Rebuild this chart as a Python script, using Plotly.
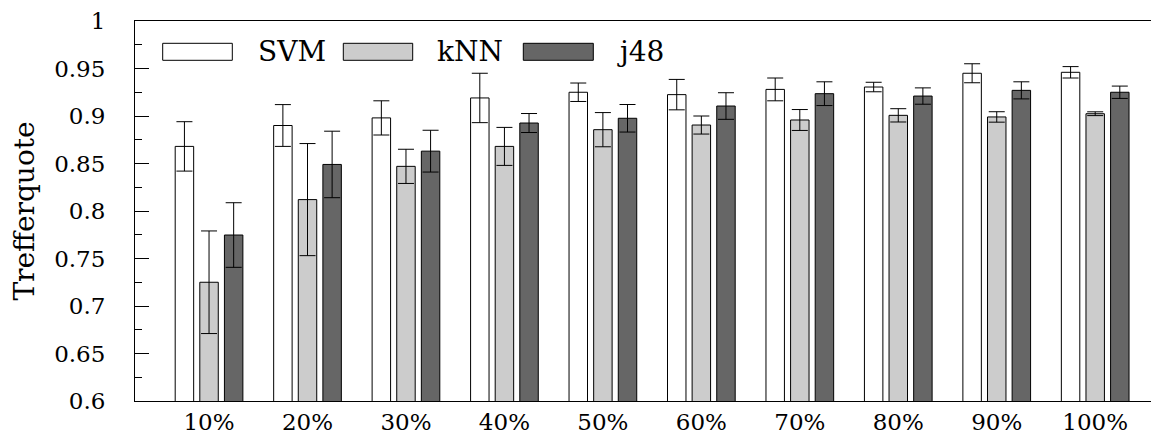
import plotly.graph_objects as go

categories = ["10%", "20%", "30%", "40%", "50%", "60%", "70%", "80%", "90%", "100%"]
series_names = ["SVM", "kNN", "j48"]
svm = [0.868, 0.890, 0.898, 0.919, 0.925, 0.9225, 0.928, 0.9305, 0.945, 0.946]
svm_err = [0.026, 0.022, 0.018, 0.026, 0.0097, 0.016, 0.012, 0.005, 0.010, 0.006]
knn = [0.725, 0.812, 0.847, 0.868, 0.8856, 0.8905, 0.8958, 0.9007, 0.899, 0.9024]
knn_err = [0.054, 0.059, 0.018, 0.020, 0.018, 0.0095, 0.011, 0.007, 0.0055, 0.002]
j48 = [0.7747, 0.849, 0.863, 0.8926, 0.8976, 0.9105, 0.9235, 0.921, 0.927, 0.925]
j48_err = [0.034, 0.035, 0.022, 0.010, 0.0145, 0.014, 0.0125, 0.0086, 0.009, 0.0065]
y_ticks = [0.6, 0.65, 0.7, 0.75, 0.8, 0.85, 0.9, 0.95, 1.0]
y_tick_text = ["0.6", "0.65", "0.7", "0.75", "0.8", "0.85", "0.9", "0.95", "1"]

colors = ["#ffffff", "#cccccc", "#666666"]
FONT = "DejaVu Serif"
FS = 23

# page body has an 8px default margin
OFF = 8
W, H = 1159 - OFF, 439
PL, PR, PT, PB = 135, 1159, 21, 401   # plot area in window pixels
L, T = PL - OFF, PT - OFF
R = (W + OFF) - PR
B = (H + OFF) - PB
PW, PH = PR - PL, PB - PT

def px_x(p):
    return (p - PL) / PW

def px_y(p):
    return (PB - p) / PH

fig = go.Figure()
for name, vals, errs, col in zip(series_names, [svm, knn, j48], [svm_err, knn_err, j48_err], colors):
    fig.add_trace(go.Bar(
        x=categories, y=vals, name=name,
        marker=dict(color=col, line=dict(color="black", width=1)),
        error_y=dict(type="data", array=errs, visible=True, color="black", thickness=1, width=8),
        showlegend=False,
    ))

# right-side mirrored ticks (major only)
fig.add_trace(go.Scatter(x=[categories[0]], y=[0.6], yaxis="y2", mode="markers",
                         marker=dict(opacity=0), showlegend=False, hoverinfo="skip"))

# custom legend
legend_rects = [(162.7, 232.3), (343.3, 412.7), (523.3, 593.3)]
legend_text_x = [256, 435, 615]
shapes = []
annotations = []
for (x0, x1), tx, name, col in zip(legend_rects, legend_text_x, series_names, colors):
    shapes.append(dict(type="rect", xref="paper", yref="paper",
                       x0=px_x(x0), x1=px_x(x1), y0=px_y(60.3), y1=px_y(43.3),
                       fillcolor=col, line=dict(color="black", width=1)))
    annotations.append(dict(text=name, xref="paper", yref="paper", x=px_x(tx), y=px_y(51),
                            xanchor="left", yanchor="middle", showarrow=False,
                            font=dict(family=FONT, size=28, color="black")))

fig.update_layout(
    width=W, height=H,
    margin=dict(l=L, r=R, t=T, b=B, autoexpand=False),
    paper_bgcolor="white", plot_bgcolor="white",
    barmode="group", bargap=0.25, bargroupgap=0.25,
    font=dict(family=FONT, size=FS, color="black"),
    shapes=shapes, annotations=annotations,
    xaxis=dict(
        type="category", range=[-0.752, 9.648],
        showline=True, linecolor="black", linewidth=1, mirror=True,
        ticks="", showgrid=False, zeroline=False,
        tickfont=dict(family=FONT, size=FS, color="black"),
        ticklabelstandoff=0,
    ),
    yaxis=dict(
        range=[0.6, 1.0], tickvals=y_ticks, ticktext=y_tick_text,
        showline=True, linecolor="black", linewidth=1, mirror=False,
        ticks="inside", ticklen=14, tickcolor="black", tickwidth=1,
        minor=dict(dtick=0.025, ticks="inside", ticklen=7, tickcolor="black", tickwidth=1),
        showgrid=False, zeroline=False,
        tickfont=dict(family=FONT, size=FS, color="black"),
        ticklabelstandoff=24, ticklabeloverflow="allow",
        title=dict(text="Trefferquote", font=dict(family=FONT, size=28, color="black"), standoff=19),
    ),
    yaxis2=dict(
        range=[0.6, 1.0], tickvals=y_ticks, overlaying="y", side="right",
        showline=False, ticks="inside", ticklen=5, tickcolor="black", tickwidth=1,
        showticklabels=False, showgrid=False, zeroline=False,
    ),
)

fig.write_html("out.html")
